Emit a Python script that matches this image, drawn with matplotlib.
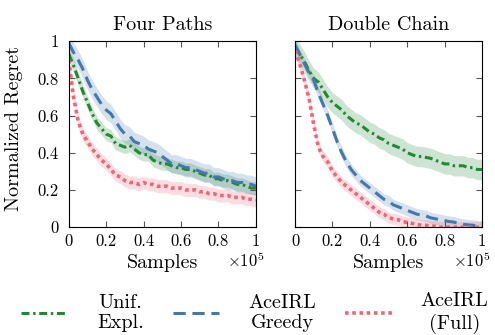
import matplotlib
matplotlib.use("Agg")
import matplotlib.pyplot as plt
import numpy as np

plt.rcParams['font.family'] = 'serif'
plt.rcParams['font.serif'] = ['cmr10']
plt.rcParams['mathtext.fontset'] = 'cm'
plt.rcParams['axes.unicode_minus'] = False

# samples (x 1e5)
samples = np.linspace(0, 1, 41) * 1e5

titles = ['Four Paths', 'Double Chain']
labels = ['Unif.\nExpl.', 'AceIRL\nGreedy', 'AceIRL\n(Full)']
colors = ['#228833', '#4477AA', '#EE6677']

fp_unif = [0.93, 0.87, 0.80, 0.73, 0.67, 0.61, 0.56, 0.53, 0.50, 0.49, 0.45, 0.44, 0.43, 0.44, 0.42, 0.40,
           0.39, 0.39, 0.36, 0.35, 0.34, 0.34, 0.33, 0.32, 0.32, 0.31, 0.31, 0.30, 0.29, 0.28, 0.28, 0.26,
           0.26, 0.25, 0.25, 0.24, 0.23, 0.23, 0.22, 0.21, 0.21]
fp_greedy = [0.99, 0.94, 0.90, 0.85, 0.79, 0.74, 0.70, 0.66, 0.63, 0.61, 0.57, 0.53, 0.50, 0.49, 0.46, 0.45,
             0.44, 0.42, 0.41, 0.40, 0.38, 0.36, 0.34, 0.34, 0.33, 0.32, 0.32, 0.31, 0.30, 0.29, 0.29, 0.27,
             0.27, 0.26, 0.25, 0.25, 0.24, 0.24, 0.23, 0.23, 0.22]
fp_full = [0.90, 0.70, 0.57, 0.50, 0.46, 0.42, 0.39, 0.36, 0.34, 0.31, 0.28, 0.27, 0.25, 0.24, 0.24, 0.23,
           0.24, 0.23, 0.23, 0.22, 0.22, 0.22, 0.21, 0.21, 0.21, 0.20, 0.20, 0.20, 0.19, 0.19, 0.18, 0.18,
           0.17, 0.17, 0.17, 0.16, 0.16, 0.16, 0.15, 0.15, 0.145]

dc_unif = [0.97, 0.93, 0.89, 0.84, 0.80, 0.78, 0.74, 0.70, 0.67, 0.65, 0.63, 0.60, 0.58, 0.56, 0.55, 0.53,
           0.51, 0.50, 0.48, 0.47, 0.45, 0.44, 0.43, 0.42, 0.40, 0.39, 0.38, 0.38, 0.375, 0.37, 0.36, 0.35,
           0.34, 0.34, 0.33, 0.33, 0.33, 0.32, 0.32, 0.31, 0.31]
dc_greedy = [0.98, 0.93, 0.88, 0.83, 0.79, 0.72, 0.66, 0.60, 0.53, 0.46, 0.40, 0.35, 0.31, 0.28, 0.25, 0.23,
             0.21, 0.19, 0.17, 0.15, 0.14, 0.12, 0.11, 0.10, 0.09, 0.08, 0.07, 0.065, 0.06, 0.05, 0.045, 0.04,
             0.035, 0.03, 0.027, 0.02, 0.015, 0.012, 0.01, 0.005, 0.005]
dc_full = [0.95, 0.88, 0.79, 0.69, 0.55, 0.43, 0.38, 0.35, 0.30, 0.27, 0.24, 0.22, 0.20, 0.18, 0.16, 0.14,
           0.12, 0.10, 0.08, 0.07, 0.05, 0.045, 0.04, 0.03, 0.025, 0.02, 0.015, 0.01, 0.01, 0.005, 0.005, 0.0,
           0.0, 0.0, 0.0, 0.0, 0.0, 0.0, 0.0, 0.0, 0.0]

# half width of shaded band
fp_spread = [0.035, 0.05, 0.035]
dc_spread = [0.055, 0.03, 0.03]

styles = [dict(ls=(0, (2.6, 1.2, 0.8, 1.2)), lw=2.2),
          dict(ls=(0, (4, 2.2)), lw=2.2),
          dict(ls=(0, (1, 1)), lw=2.6)]

fig = plt.figure(figsize=(4.95, 3.35), dpi=100)
ax1 = fig.add_axes([0.139, 0.322, 0.378, 0.555])
ax2 = fig.add_axes([0.596, 0.322, 0.378, 0.555])

data = [([fp_unif, fp_greedy, fp_full], fp_spread), ([dc_unif, dc_greedy, dc_full], dc_spread)]
for ax, title, (series, spread) in zip([ax1, ax2], titles, data):
    for y, s, c, st, lab in zip(series, spread, colors, styles, labels):
        y = np.array(y)
        ax.fill_between(samples, np.clip(y - s, 0, None), y + s, color=c, alpha=0.22, lw=0)
        ax.plot(samples, y, color=c, label=lab, **st)
    ax.set_xlim(0, 1e5)
    ax.set_ylim(0, 1)
    ax.set_xticks(np.linspace(0, 1e5, 6))
    ax.set_xticklabels(['0', '0.2', '0.4', '0.6', '0.8', '1'])
    ax.set_yticks(np.linspace(0, 1, 6))
    ax.tick_params(direction='in', top=True, right=True, labelsize=12, length=4, color='#555555')
    ax.tick_params(axis='x', pad=5)
    ax.tick_params(axis='y', pad=7)
    ax.set_title(title, fontsize=14.5, pad=8)
    ax.set_xlabel('Samples', fontsize=14.5, labelpad=3)
    ax.text(0.945, -0.18, r'$\times 10^5$', transform=ax.transAxes, fontsize=12, ha='center', va='center')

ax1.set_yticklabels(['0', '0.2', '0.4', '0.6', '0.8', '1'])
ax2.set_yticklabels([])
ax1.set_ylabel('Normalized Regret', fontsize=14.5)
ax1.yaxis.set_label_coords(-0.245, 0.53)

h, l = ax1.get_legend_handles_labels()
leg = fig.legend(h, l, loc='lower center', bbox_to_anchor=(0.515, -0.05), ncol=3, frameon=False,
                 fontsize=14.5, handlelength=2.3, columnspacing=1.45, handletextpad=1.45, labelspacing=0.2)
for t in leg.get_texts():
    t.set_multialignment('center')

fig.savefig('out.png', dpi=100)
